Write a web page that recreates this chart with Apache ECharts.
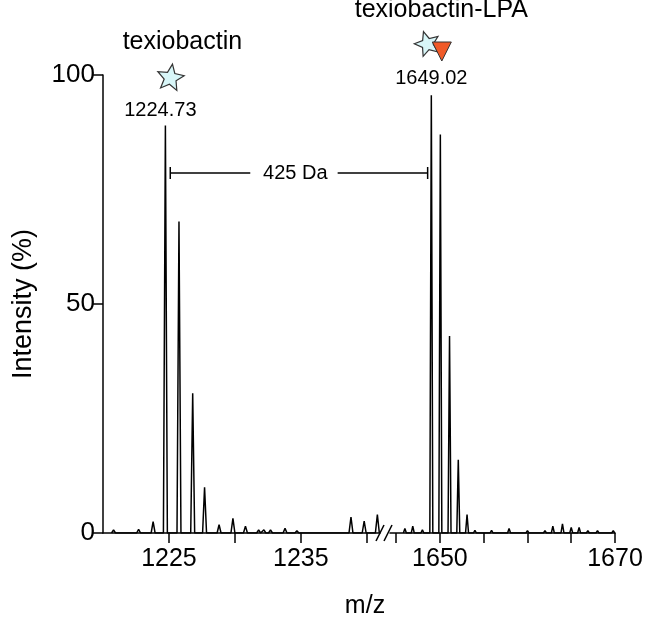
<!DOCTYPE html>
<html>
<head>
<meta charset="utf-8">
<script src="https://cdn.jsdelivr.net/npm/echarts@6/dist/echarts.min.js"></script>
<style>html,body{margin:0;background:#fff}#chart{width:650px;height:638px}</style>
</head>
<body>
<div id="chart"></div>
<script>
// peaks: m/z and relative intensity (%)
const leftMz = [1220.8, 1222.7, 1223.8, 1224.73, 1225.76, 1226.8, 1227.7, 1228.8, 1229.85, 1230.8, 1231.8, 1232.2, 1232.7, 1233.8, 1234.7, 1238.8, 1239.8, 1240.8];
const leftInt = [0.7, 0.8, 2.5, 89, 68, 30.5, 10, 1.8, 3.2, 1.5, 0.7, 0.7, 0.7, 1, 0.5, 3.5, 2.6, 4];
const rightMz = [1646.0, 1646.9, 1648.0, 1649.02, 1650.05, 1651.1, 1652.1, 1653.1, 1654.0, 1655.9, 1657.9, 1660.0, 1662.0, 1662.9, 1664.0, 1665.0, 1665.9, 1666.9, 1668.0, 1669.8];
const rightInt = [1, 1.5, 0.7, 95.6, 87, 43, 16, 4, 0.6, 0.6, 1, 0.5, 0.5, 1.5, 2, 1.2, 1.2, 0.5, 0.5, 0.5];
const leftTicks = [1225, 1230, 1235, 1240];
const leftLabels = [1225, 1235];
const rightTicks = [1645, 1650, 1655, 1660, 1665, 1670];
const rightLabels = [1650, 1670];
const yTicks = [0, 50, 100];

const FONT = 'Liberation Sans';
const chart = echarts.init(document.getElementById('chart'));

function spikes(mz, inten, w) {
  const pts = [];
  mz.forEach((m, i) => {
    pts.push([m - w, 0], [m, inten[i]], [m + w, 0]);
  });
  return pts;
}

function xAxis(idx, min, max, ticks, labels) {
  return {
    type: 'value', gridIndex: idx, min: min, max: max,
    splitLine: { show: false },
    axisLine: { lineStyle: { color: '#000', width: 1.5 } },
    axisTick: { customValues: ticks, length: 10, lineStyle: { color: '#000', width: 1.5 } },
    axisLabel: { customValues: labels, formatter: v => String(v), color: '#000', fontSize: 25, fontFamily: FONT, margin: 14 }
  };
}

chart.setOption({
  animation: false,
  grid: [
    { left: 103, top: 75, width: 277, height: 458 },
    { left: 390, top: 75, width: 225, height: 458 }
  ],
  xAxis: [
    xAxis(0, 1220, 1241, leftTicks, leftLabels),
    xAxis(1, 1644.3, 1670, rightTicks, rightLabels)
  ],
  yAxis: [
    {
      type: 'value', gridIndex: 0, min: 0, max: 100,
      splitLine: { show: false },
      axisLine: { show: true, lineStyle: { color: '#000', width: 1.5 } },
      axisTick: { show: true, customValues: yTicks, length: 10, lineStyle: { color: '#000', width: 1.5 } },
      axisLabel: { customValues: yTicks, color: '#000', fontSize: 26, fontFamily: FONT, margin: 8 },
      name: 'Intensity (%)', nameLocation: 'middle', nameGap: 66,
      nameTextStyle: { color: '#000', fontSize: 27, fontFamily: FONT }
    },
    { type: 'value', gridIndex: 1, min: 0, max: 100, show: false }
  ],
  series: [
    {
      type: 'line', xAxisIndex: 0, yAxisIndex: 0, symbol: 'none',
      lineStyle: { color: '#000', width: 1.5 }, data: spikes(leftMz, leftInt, 0.15)
    },
    {
      type: 'line', xAxisIndex: 1, yAxisIndex: 1, symbol: 'none',
      lineStyle: { color: '#000', width: 1.5 }, data: spikes(rightMz, rightInt, 0.17)
    }
  ]
});

const p0 = chart.convertToPixel({ gridIndex: 0 }, [leftMz[3], 89]);
const p1 = chart.convertToPixel({ gridIndex: 1 }, [rightMz[3], 95.6]);
const bA = chart.convertToPixel({ gridIndex: 0 }, [1225.1, 78.6]);
const bB = chart.convertToPixel({ gridIndex: 1 }, [1648.6, 78.6]);
const axisY = chart.convertToPixel({ gridIndex: 0 }, [1241, 0])[1];

function text(x, y, s, size) {
  return { type: 'text', x: x, y: y, style: { text: s, fill: '#000', font: size + 'px "' + FONT + '"', align: 'center', verticalAlign: 'middle' } };
}
function line(x1, y1, x2, y2) {
  return { type: 'line', shape: { x1: x1, y1: y1, x2: x2, y2: y2 }, style: { stroke: '#000', lineWidth: 1.5 } };
}
function star(cx, cy, r, rot) {
  const pts = [];
  for (let i = 0; i < 10; i++) {
    const a = -Math.PI / 2 + rot + i * Math.PI / 5;
    const rr = i % 2 ? r * 0.45 : r;
    pts.push([cx + rr * Math.cos(a), cy + rr * Math.sin(a)]);
  }
  return { type: 'polygon', shape: { points: pts }, style: { fill: '#d8f6f8', stroke: '#333', lineWidth: 1.2 } };
}

chart.setOption({
  graphic: [
    text(p0[0] + 17, 42, 'texiobactin', 25),
    star(p0[0] + 5, 78, 14, 0.15),
    text(p0[0] - 5, 110, '1224.73', 20),
    text(p1[0] + 10, 10, 'texiobactin-LPA', 25),
    star(p1[0] - 4, 44, 13, -0.3),
    { type: 'polygon', shape: { points: [[p1[0] + 1, 42], [p1[0] + 20, 42], [p1[0] + 10.5, 61]] }, style: { fill: '#f05a28', stroke: '#333', lineWidth: 1 } },
    text(p1[0], 78, '1649.02', 20),
    line(bA[0], bA[1], bA[0] + 80, bA[1]),
    line(bA[0], bA[1] - 6, bA[0], bA[1] + 6),
    line(bB[0] - 90, bB[1], bB[0], bB[1]),
    line(bB[0], bB[1] - 6, bB[0], bB[1] + 6),
    text(bA[0] + 125, bA[1], '425 Da', 20),
    text(365, 606, 'm/z', 25),
    { type: 'rect', shape: { x: 381, y: axisY - 8, width: 8, height: 16 }, style: { fill: '#fff' } },
    line(376, axisY + 8, 384, axisY - 8),
    line(384, axisY + 8, 392, axisY - 8)
  ]
});
</script>
</body>
</html>
